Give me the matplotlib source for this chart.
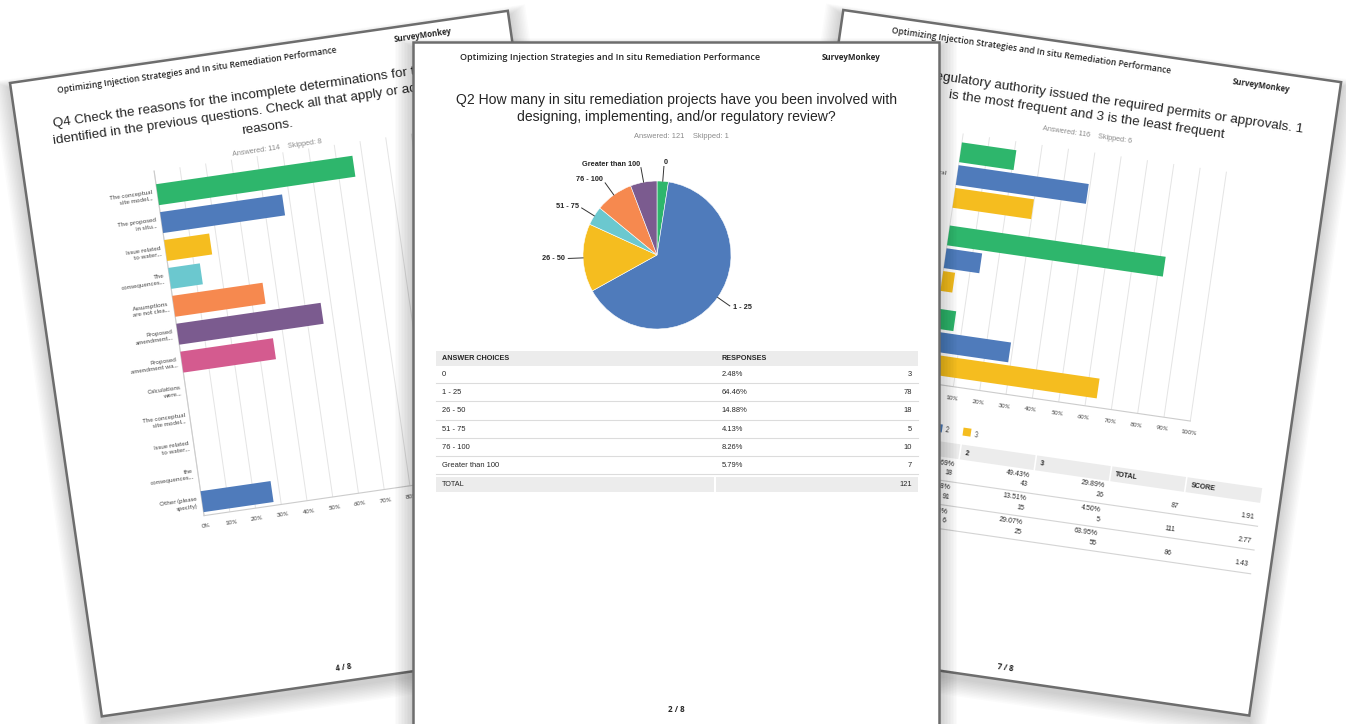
import numpy as np
import matplotlib
matplotlib.use("Agg")
import matplotlib.pyplot as plt
from matplotlib.patches import Rectangle
from matplotlib.transforms import Affine2D

# ---------------- data ----------------
# page 4 (left page): Q4 reasons, % of respondents
q4_labels = ["The conceptual\nsite model...", "The proposed\nin situ...", "Issue related\nto water...",
             "The\nconsequences...", "Assumptions\nare not clea...", "Proposed\namendment...",
             "Proposed\namendment wa...", "Calculations\nwere...", "The conceptual\nsite model...",
             "Issue related\nto water...", "the\nconsequences...", "Other (please\nspecify)"]
q4_pct = [76.3, 47.4, 17.5, 12.3, 35.1, 56.1, 36.0, 0, 0, 0, 0, 27.2]
q4_answered, q4_skipped = 114, 8

# page 2 (middle page): Q2 number of projects
q2_choices = ["0", "1 - 25", "26 - 50", "51 - 75", "76 - 100", "Greater than 100"]
q2_pct = [2.48, 64.46, 14.88, 4.13, 8.26, 5.79]
q2_counts = [3, 78, 18, 5, 10, 7]
q2_answered, q2_skipped = 121, 1

# page 7 (right page): ranking question
rank_groups = ["Federal", "State", "Local"]
rank_names = ["1", "2", "3"]
rank1_pct = [20.69, 81.98, 6.98]
rank2_pct = [49.43, 13.51, 29.07]
rank3_pct = [29.89, 4.50, 63.95]
rank1_n = [18, 91, 6]
rank2_n = [43, 15, 25]
rank3_n = [26, 5, 55]
rank_total = [87, 111, 86]
rank_score = [1.91, 2.77, 1.43]
rank_answered, rank_skipped = 116, 6

pct_ticks = list(range(0, 101, 10))

palette = ['#2eb66c', '#4f7bbb', '#f5bd1f', '#6bc8cf', '#f6894f',
           '#7b5b8f', '#d45b8f', '#e05c5c', '#9e9e9e', '#a7844f']
header = "Optimizing Injection Strategies and In situ Remediation Performance"
TXT = '#262626'

W, H = 1346, 724
fig = plt.figure(figsize=(W / 100, H / 100), dpi=100)
ax = fig.add_axes([0, 0, 1, 1])
ax.set_xlim(0, W)
ax.set_ylim(H, 0)
ax.axis('off')


def frame(x0, y0, ang):
    # page coords (x right, y down, px) -> picture px
    return Affine2D().rotate_deg(ang).translate(x0, y0)


def draw_page(fr, w, h, z):
    tf = fr + ax.transData
    for k in range(12, 0, -1):
        d = k * 1.5
        ax.add_patch(Rectangle((-d, -0.5 * d + 5), w + 2 * d, h + 1.5 * d, transform=tf,
                               facecolor='black', alpha=0.017, lw=0, zorder=z))
    ax.add_patch(Rectangle((0, 0), w, h, transform=tf, facecolor='white',
                           edgecolor='#6d6d6d', lw=1.8, zorder=z + 0.1))
    return tf


def txt(tf, rot, x, y, s, size, z, family='Liberation Sans', weight='normal',
        color=TXT, ha='center', va='center', **kw):
    ax.text(x, y, s, transform=tf, rotation=rot, rotation_mode='anchor', fontsize=size,
            family=family, weight=weight, color=color, ha=ha, va=va, zorder=z, **kw)


# ================= left page (4 / 8) =================
rotL = 8.25
frL = frame(10, 83, -rotL)
tfL = draw_page(frL, 503, 640, 1)
zL = 1.5
txt(tfL, rotL, 187, 14, header, 6.1, zL, family='Open Sans', weight='semibold')
txt(tfL, rotL, 415, 12.5, "SurveyMonkey", 5.7, zL, family='Open Sans', weight='bold')
txt(tfL, rotL, 37, 46.5, "Q4 Check the reasons for the incomplete determinations for the issues",
    9.7, zL, ha='left')
txt(tfL, rotL, 34.5, 63.5, "identified in the previous questions. Check all that apply or add other",
    9.7, zL, ha='left')
txt(tfL, rotL, 248, 80.5, "reasons.", 9.7, zL)
txt(tfL, rotL, 255, 103, f"Answered: {q4_answered}    Skipped: {q4_skipped}", 5.2, zL,
    color='#8a8a8a')
txt(tfL, rotL, 246, 626, "4 / 8", 5.6, zL, family='Open Sans', weight='bold')

chL = Affine2D().scale(2.6, 28.2).translate(130, 131.7) + frL + ax.transData
nL = len(q4_pct)
ax.vlines(pct_ticks, -0.85, nL - 0.5, transform=chL, colors='#e4e4e4', lw=0.7, zorder=1.2)
ax.plot([0, 0], [-0.85, nL - 0.5], transform=chL, color='#cccccc', lw=0.8, zorder=1.25)
ax.plot([0, 100], [nL - 0.5, nL - 0.5], transform=chL, color='#cccccc', lw=0.8, zorder=1.25)
ax.barh(np.arange(nL), q4_pct, height=0.75, transform=chL,
        color=[palette[i % len(palette)] for i in range(nL)], zorder=1.3)
for t in pct_ticks:
    ax.text(t, nL - 0.12, f"{t}%", transform=chL, rotation=rotL, rotation_mode='anchor',
            ha='center', va='center', fontsize=4.6, family='Lato', color='#444444', zorder=zL)
for i, lab in enumerate(q4_labels):
    ax.text(-1.8, i, lab, transform=chL, rotation=rotL, rotation_mode='anchor', ha='right',
            va='center', multialignment='right', linespacing=1.3, fontsize=4.6,
            family='Lato', color='#444444', zorder=zL)

# ================= right page (7 / 8) =================
rotR = -8.25
frR = frame(843.3, 10, 8.25)
tfR = draw_page(frR, 503, 640, 1)
zR = 1.5
txt(tfR, rotR, 192, 13.6, header, 6.1, zR, family='Open Sans', weight='semibold')
txt(tfR, rotR, 424, 14.8, "SurveyMonkey", 5.7, zR, family='Open Sans', weight='bold')
txt(tfR, rotR, 472.4, 52.8,
    "Q9 How often the regulatory authority issued the required permits or approvals. 1",
    9.7, zR, ha='right')
txt(tfR, rotR, 255.6, 69.5, "is the most frequent and 3 is the least frequent", 9.7, zR)
txt(tfR, rotR, 259.4, 88.7, f"Answered: {rank_answered}    Skipped: {rank_skipped}", 5.2, zR,
    color='#8a8a8a')
txt(tfR, rotR, 254.3, 627.3, "7 / 8", 5.6, zR, family='Open Sans', weight='bold')

chR = Affine2D().scale(2.66, 84).translate(136.4, 147) + frR + ax.transData
gR = np.arange(len(rank_groups))
ax.vlines(pct_ticks, -0.5, 2.5, transform=chR, colors='#e4e4e4', lw=0.7, zorder=1.2)
ax.plot([0, 100], [2.5, 2.5], transform=chR, color='#cccccc', lw=0.8, zorder=1.25)
for k, vals in enumerate([rank1_pct, rank2_pct, rank3_pct]):
    ax.barh(gR + (k - 1) * 0.274, vals, height=0.238, transform=chR,
            color=palette[k], zorder=1.3)
for t in pct_ticks:
    ax.text(t, 2.64, f"{t}%", transform=chR, rotation=rotR, rotation_mode='anchor',
            ha='center', va='center', fontsize=4.6, family='Lato', color='#444444', zorder=zR)
for i, lab in enumerate(rank_groups):
    ax.text(-4, i, lab, transform=chR, rotation=rotR, rotation_mode='anchor', ha='right',
            va='center', fontsize=4.6, family='Lato', color='#444444', zorder=zR)
for k, name in enumerate(rank_names):
    ax.add_patch(Rectangle((121 + 29 * k, 396), 8, 8, transform=tfR,
                           facecolor=palette[k], lw=0, zorder=zR))
    txt(tfR, rotR, 132 + 29 * k, 401, name, 4.8, zR, family='Lato', ha='left', color='#444444')

# ranking table
col_edges = [20, 103, 179, 255, 331, 407, 484]
for a, b in zip(col_edges[:-1], col_edges[1:]):
    ax.add_patch(Rectangle((a + 0.8, 413), b - a - 1.6, 15, transform=tfR,
                           facecolor='#ececec', lw=0, zorder=1.3))
for j, name in enumerate(rank_names + ["TOTAL", "SCORE"]):
    txt(tfR, rotR, col_edges[j + 1] + 5, 421, name, 5.0, zR, weight='bold', ha='left')
for i, grp in enumerate(rank_groups):
    top = 427.5 + 24 * i
    ax.plot([20, 484], [top + 24, top + 24], transform=tfR, color='#d4d4d4', lw=0.8, zorder=1.3)
    txt(tfR, rotR, 25, top + 11, grp, 5.0, zR, ha='left')
    for j, (pc, n) in enumerate([(rank1_pct, rank1_n), (rank2_pct, rank2_n), (rank3_pct, rank3_n)]):
        xr = col_edges[j + 2] - 4
        txt(tfR, rotR, xr, top + 6.5, f"{pc[i]:.2f}%", 5.0, zR, ha='right')
        txt(tfR, rotR, xr, top + 16, f"{n[i]}", 5.0, zR, ha='right')
    txt(tfR, rotR, col_edges[5] - 4, top + 15.5, f"{rank_total[i]}", 5.0, zR, ha='right')
    txt(tfR, rotR, col_edges[6] - 4, top + 15.5, f"{rank_score[i]:.2f}", 5.0, zR, ha='right')

# ================= middle page (2 / 8) =================
frM = frame(412.5, 42, 0)
tfM = draw_page(frM, 526.5, 720, 5)
zM = 5.5
txt(tfM, 0, 198, 16, header, 6.5, zM, family='Open Sans', weight='semibold')
txt(tfM, 0, 439, 16, "SurveyMonkey", 5.8, zM, family='Open Sans', weight='bold')
txt(tfM, 0, 264, 58, "Q2 How many in situ remediation projects have you been involved with",
    10.1, zM)
txt(tfM, 0, 264, 75, "designing, implementing, and/or regulatory review?", 10.1, zM)
txt(tfM, 0, 269, 95, f"Answered: {q2_answered}    Skipped: {q2_skipped}", 5.4, zM,
    color='#8a8a8a')
txt(tfM, 0, 264, 667, "2 / 8", 5.8, zM, family='Open Sans', weight='bold')

# answer table
ax.add_patch(Rectangle((23, 309), 482, 15, transform=tfM, facecolor='#ececec', lw=0, zorder=5.3))
txt(tfM, 0, 29.5, 317, "ANSWER CHOICES", 5.2, zM, weight='bold', ha='left')
txt(tfM, 0, 309, 317, "RESPONSES", 5.2, zM, weight='bold', ha='left')
for i, (ch, pc, n) in enumerate(zip(q2_choices, q2_pct, q2_counts)):
    yy = 332.3 + 18.3 * i
    txt(tfM, 0, 29.5, yy, ch, 5.4, zM, ha='left')
    txt(tfM, 0, 309, yy, f"{pc:.2f}%", 5.4, zM, ha='left')
    txt(tfM, 0, 499.5, yy, f"{n}", 5.4, zM, ha='right')
    ax.plot([23, 505], [yy + 8.6, yy + 8.6], transform=tfM, color='#dcdcdc', lw=0.8, zorder=5.3)
ytot = 332.3 + 18.3 * len(q2_choices)
ax.add_patch(Rectangle((23, ytot - 7.6), 278.5, 15, transform=tfM, facecolor='#ececec', lw=0, zorder=5.3))
ax.add_patch(Rectangle((303.5, ytot - 7.6), 201.5, 15, transform=tfM, facecolor='#ececec', lw=0, zorder=5.3))
txt(tfM, 0, 29.5, ytot, "TOTAL", 5.2, zM, ha='left')
txt(tfM, 0, 499.5, ytot, f"{sum(q2_counts)}", 5.4, zM, ha='right')

# pie chart
pc_x, pc_y, pr = 657, 255, 74
span = 1.6 * pr
axp = fig.add_axes([(pc_x - span) / W, 1 - (pc_y + span) / H, 2 * span / W, 2 * span / H])
axp.pie(q2_pct, colors=palette[:len(q2_pct)], startangle=90, counterclock=False,
        wedgeprops=dict(linewidth=0.4, edgecolor='white'))
axp.set_xlim(-1.6, 1.6)
axp.set_ylim(-1.6, 1.6)
axp.set_aspect('equal')
axp.axis('off')
frac = np.array(q2_pct) / sum(q2_pct)
mid = (np.cumsum(frac) - frac / 2) * 360
for lab, m in zip(q2_choices, mid):
    phi = np.deg2rad(90 - m)
    cx, cy = np.cos(phi), np.sin(phi)
    axp.plot([1.0 * cx, 1.2 * cx], [1.0 * cy, 1.2 * cy], color='#333333', lw=0.7, clip_on=False)
    axp.text(1.25 * cx, 1.25 * cy, lab, ha='left' if cx > 0 else 'right', va='center',
             fontsize=5.3, weight='bold', family='Liberation Sans', color=TXT)

fig.savefig("out.png", dpi=100, facecolor='white')
